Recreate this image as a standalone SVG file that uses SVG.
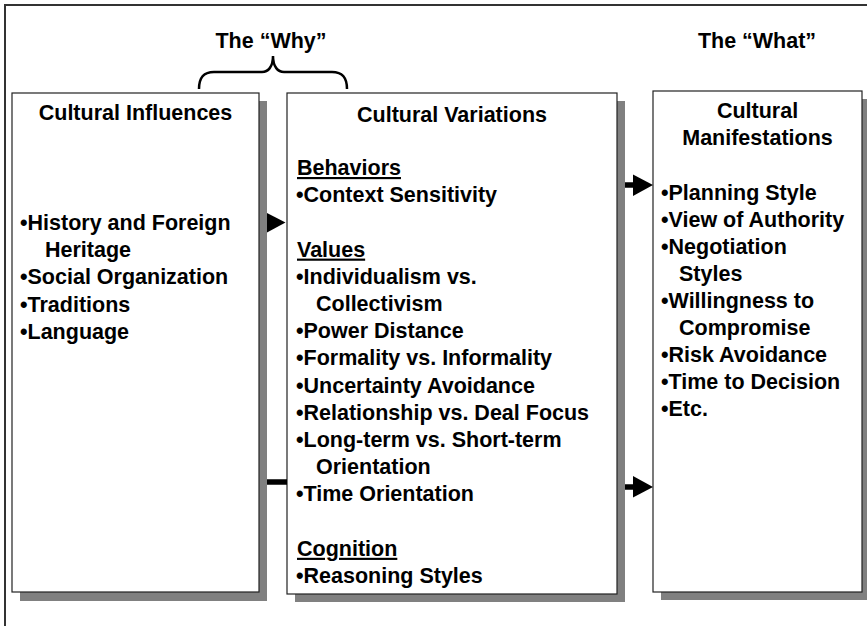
<svg xmlns="http://www.w3.org/2000/svg" width="867" height="626" viewBox="0 0 867 626">
<style>
text{font-family:"Liberation Sans",Arial,Helvetica,sans-serif;font-weight:bold;font-size:21.5px;fill:#000}
.c{text-anchor:middle}
.u{text-decoration:underline}
.box{fill:#fff;stroke:#222;stroke-width:1.2}
.sh{fill:#808080}
.frame{fill:none;stroke:#333;stroke-width:2}
.brace{fill:none;stroke:#000;stroke-width:2.5}
.ah{fill:#000}
.shaft{stroke:#000;stroke-width:5.5;fill:none}
</style>
<rect width="867" height="626" fill="#fff"/>
<path class="frame" d="M5,626 V5 H867"/>

<g id="header-why">
<path class="brace" d="M199,89 C199,78 203,72 214,72 L262,72 C268,72 273,67 273,56 C273,67 278,72 284,72 L332,72 C343,72 347,78 347,89"/>
<text class="c" x="271" y="48">The “Why”</text>
</g>
<g id="header-what">
<text class="c" x="757" y="48">The “What”</text>
</g>

<g id="cultural-influences">
<rect class="sh" x="20" y="101" width="247" height="500"/>
<rect class="box" x="12" y="93" width="247" height="499"/>
<text class="c" x="135.5" y="120">Cultural Influences</text>
<text x="20">
<tspan x="20" y="230">•History and Foreign</tspan>
<tspan x="45" y="257.2">Heritage</tspan>
<tspan x="20" y="284.4">•Social Organization</tspan>
<tspan x="20" y="311.6">•Traditions</tspan>
<tspan x="20" y="338.8">•Language</tspan>
</text>
</g>

<g id="cultural-variations">
<rect class="sh" x="295" y="101" width="330" height="501"/>
<rect class="box" x="287" y="93" width="330" height="501"/>
<text class="c" x="452" y="121.5">Cultural Variations</text>
<text class="u" x="297" y="175">Behaviors</text>
<text x="296" y="202.2">•Context Sensitivity</text>
<text class="u" x="297" y="256.6">Values</text>
<text x="296">
<tspan x="296" y="283.8">•Individualism vs.</tspan>
<tspan x="316" y="311">Collectivism</tspan>
<tspan x="296" y="338.2">•Power Distance</tspan>
<tspan x="296" y="365.4">•Formality vs. Informality</tspan>
<tspan x="296" y="392.6">•Uncertainty Avoidance</tspan>
<tspan x="296" y="419.8">•Relationship vs. Deal Focus</tspan>
<tspan x="296" y="447">•Long-term vs. Short-term</tspan>
<tspan x="316" y="474.2">Orientation</tspan>
<tspan x="296" y="501.4">•Time Orientation</tspan>
</text>
<text class="u" x="297" y="555.8">Cognition</text>
<text x="296" y="583">•Reasoning Styles</text>
</g>

<g id="cultural-manifestations">
<rect class="sh" x="661" y="99" width="215" height="501"/>
<rect class="box" x="653" y="91" width="209" height="501"/>
<text class="c" x="757.5" y="118">Cultural</text>
<text class="c" x="757.5" y="145">Manifestations</text>
<text x="661">
<tspan x="661" y="200">•Planning Style</tspan>
<tspan x="661" y="227">•View of Authority</tspan>
<tspan x="661" y="254">•Negotiation</tspan>
<tspan x="679" y="281">Styles</tspan>
<tspan x="661" y="308">•Willingness to</tspan>
<tspan x="679" y="335">Compromise</tspan>
<tspan x="661" y="362">•Risk Avoidance</tspan>
<tspan x="661" y="389">•Time to Decision</tspan>
<tspan x="661" y="416">•Etc.</tspan>
</text>
</g>

<g id="connectors">
<polygon class="ah" points="267,213 285.5,222.5 267,232.5"/>
<line class="shaft" x1="267" y1="482" x2="287" y2="482"/>
<line class="shaft" x1="625" y1="185" x2="634" y2="185"/>
<polygon class="ah" points="633,174.5 653,185 633,196"/>
<line class="shaft" x1="625" y1="487" x2="634" y2="487"/>
<polygon class="ah" points="633,476 653,487 633,497.5"/>
</g>
</svg>
